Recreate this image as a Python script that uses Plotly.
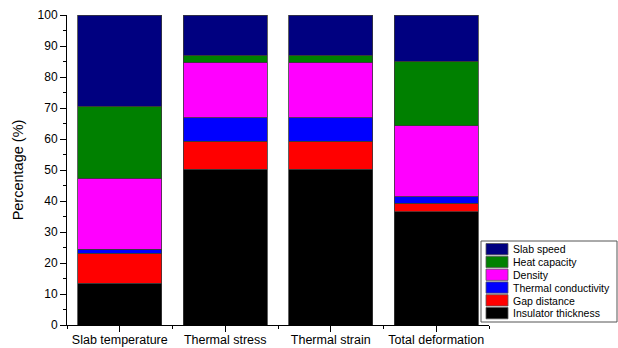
import plotly.graph_objects as go

# Response quantities and the share of each design factor (%)
categories = ["Slab temperature", "Thermal stress", "Thermal strain", "Total deformation"]
insulator_thickness = [13.4, 50.2, 50.2, 36.6]
gap_distance = [9.7, 9.0, 9.0, 2.6]
thermal_conductivity = [1.3, 7.7, 7.7, 2.1]
density = [22.9, 17.8, 17.8, 22.9]
heat_capacity = [23.3, 2.3, 2.3, 20.9]
slab_speed = [29.4, 13.0, 13.0, 14.9]

series = [
    ("Insulator thickness", insulator_thickness, "#000000"),
    ("Gap distance", gap_distance, "#FF0000"),
    ("Thermal conductivity", thermal_conductivity, "#0000FF"),
    ("Density", density, "#FF00FF"),
    ("Heat capacity", heat_capacity, "#008000"),
    ("Slab speed", slab_speed, "#000080"),
]

FONT = "Liberation Sans, Arial, sans-serif"
W, H = 618, 348
ML, MR, MT, MB = 67, 129, 15, 23
PW, PH = W - ML - MR, H - MT - MB

xpos = list(range(len(categories)))

fig = go.Figure()
for name, vals, color in series:
    fig.add_trace(go.Bar(
        x=xpos, y=vals, name=name, width=0.8,
        marker=dict(color=color, line=dict(color="#3a3a3a", width=0.8)),
        showlegend=False,
    ))


def px_x(px):
    return (px - ML) / PW


def px_y(py):
    return (H - MB - py) / PH


# Legend drawn as a boxed key at the lower right
shapes = [dict(type="rect", xref="paper", yref="paper",
               x0=px_x(481), x1=px_x(617), y0=px_y(322), y1=px_y(241),
               line=dict(color="#555555", width=1), fillcolor="white", layer="above")]
annotations = []
for i, (name, vals, color) in enumerate(reversed(series)):
    top = 243.5 + 12.8 * i
    shapes.append(dict(type="rect", xref="paper", yref="paper",
                       x0=px_x(486), x1=px_x(508), y0=px_y(top + 11.3), y1=px_y(top),
                       line=dict(color="#555555", width=0.8), fillcolor=color, layer="above"))
    annotations.append(dict(xref="paper", yref="paper", x=px_x(511), y=px_y(top + 5.8),
                            text=name, showarrow=False, xanchor="left", yanchor="middle",
                            font=dict(family=FONT, size=10.5, color="black")))

fig.update_layout(
    barmode="stack",
    width=W, height=H,
    margin=dict(l=ML, r=MR, t=MT, b=MB, pad=0, autoexpand=False),
    paper_bgcolor="white", plot_bgcolor="white",
    font=dict(family=FONT, size=12, color="black"),
    shapes=shapes, annotations=annotations,
    bargap=0.2,
    xaxis=dict(
        range=[-0.5, 3.5], tickmode="array", tickvals=xpos, ticktext=categories,
        showline=True, linecolor="black", linewidth=1, automargin=False,
        ticks="outside", ticklen=6, tickcolor="black", ticklabelstandoff=-3,
        minor=dict(tickmode="array", tickvals=[-0.5, 0.5, 1.5, 2.5, 3.5], ticks="outside",
                   ticklen=3, tickcolor="black"),
        showgrid=False, zeroline=False,
        tickfont=dict(family=FONT, size=12.5),
    ),
    yaxis=dict(
        range=[0, 100], tickmode="linear", tick0=0, dtick=10,
        showline=True, linecolor="black", linewidth=1, automargin=False,
        ticks="outside", ticklen=6, tickcolor="black",
        minor=dict(dtick=5, ticks="outside", ticklen=3, tickcolor="black"),
        showgrid=False, zeroline=False,
        tickfont=dict(family=FONT, size=12),
        title=dict(text="Percentage (%)", font=dict(family=FONT, size=14.5), standoff=10),
    ),
)

fig.write_html("out.html")
